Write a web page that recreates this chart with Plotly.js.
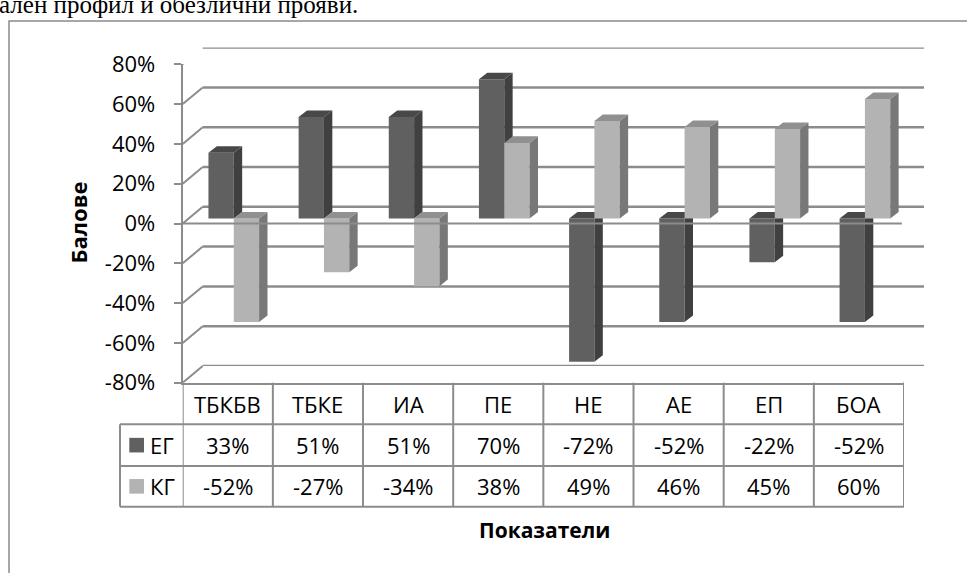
<!DOCTYPE html>
<html><head><meta charset="utf-8">
<script src="https://cdn.plot.ly/plotly-3.0.1.min.js"></script>
<style>html,body{margin:0;padding:0;background:#fff;overflow:hidden}#chart{width:967px;height:573px}</style>
</head><body><div id="chart"></div>
<script>
// ---------- data ----------
const categories = ['ТБКБВ', 'ТБКЕ', 'ИА', 'ПЕ', 'НЕ', 'АЕ', 'ЕП', 'БОА'];
const seriesNames = ['ЕГ', 'КГ'];
const egValues = [33, 51, 51, 70, -72, -52, -22, -52];
const kgValues = [-52, -27, -34, 38, 49, 46, 45, 60];
const yTickValues = [-80, -60, -40, -20, 0, 20, 40, 60, 80];
const yTickLabels = ['-80%', '-60%', '-40%', '-20%', '0%', '20%', '40%', '60%', '80%'];
const yTitle = 'Балове';
const xTitle = 'Показатели';
const pageText = 'ален профил и обезлични прояви.';

// ---------- geometry / style ----------
const W = 967, H = 573;
const FX0 = 182.7, FX1 = 904, FYTOP = 64.3, FYBOT = 382.7;   // front plane (px)
const BACK_DX = 20, BACK_DY = 16.7;                          // back wall offset (px)
const BAR_DX = 6, BAR_DY = 5;                                // bar plane offset (px)
const BAR_W = 0.281;                                         // bar width (category units)
const DEPTH_X = 0.093, DEPTH_Y = 3.3;                        // bar depth (axis units)
const GRID = '#8c8c8c';
const FONT = "'Open Sans', sans-serif";
const FS = 22;
const EG_COL = {front: '#606060', side: '#404040', top: '#484848'};
const KG_COL = {front: '#b3b3b3', side: '#787878', top: '#909090'};
const ROW_Y = [FYBOT, 424.3, 466, 506.7];                     // table row borders (px)
const LEG_X0 = 120;

const xd = (a, b) => [a / W, b / W];
const yd = (top, bot) => [1 - bot / H, 1 - top / H];
const py = p => 1 - p / H;
const px = p => p / W;
const idx = categories.map((_, i) => i);
const RANGE_X = [-0.5, categories.length - 0.5];
const RANGE_Y = [yTickValues[0], yTickValues[yTickValues.length - 1]];

function faces(values, left, col, xa, ya) {
  const sx = [], sy = [], tx = [], ty = [];
  values.forEach((v, i) => {
    const x0 = i + left, x1 = x0 + BAR_W;
    const lo = Math.min(0, v), hi = Math.max(0, v);
    sx.push(x1, x1, x1 + DEPTH_X, x1 + DEPTH_X, x1, null);
    sy.push(lo, hi, hi + DEPTH_Y, lo + DEPTH_Y, lo, null);
    tx.push(x0, x1, x1 + DEPTH_X, x0 + DEPTH_X, x0, null);
    ty.push(hi, hi, hi + DEPTH_Y, hi + DEPTH_Y, hi, null);
  });
  const base = {type: 'scatter', mode: 'lines', fill: 'toself', line: {width: 0}, xaxis: xa, yaxis: ya, hoverinfo: 'skip', showlegend: false};
  return [
    Object.assign({}, base, {x: sx, y: sy, fillcolor: col.side}),
    Object.assign({}, base, {x: tx, y: ty, fillcolor: col.top})
  ];
}

const traces = [
  {type: 'bar', name: seriesNames[0], x: idx, y: egValues, xaxis: 'x2', yaxis: 'y2',
   offset: -BAR_W, width: BAR_W, marker: {color: EG_COL.front, line: {width: 0}}, showlegend: false},
  ...faces(egValues, -BAR_W, EG_COL, 'x2', 'y2'),
  {type: 'bar', name: seriesNames[1], x: idx, y: kgValues, xaxis: 'x3', yaxis: 'y3',
   offset: 0, width: BAR_W, marker: {color: KG_COL.front, line: {width: 0}}, showlegend: false},
  ...faces(kgValues, 0, KG_COL, 'x3', 'y3')
];

const hidden = {visible: false, fixedrange: true, type: 'linear'};
const layout = {
  width: W, height: H,
  margin: {l: 0, r: 0, t: 0, b: 0},
  paper_bgcolor: '#ffffff', plot_bgcolor: 'rgba(0,0,0,0)',
  showlegend: false, barmode: 'overlay',
  font: {family: FONT, size: FS, color: '#000'},
  // back wall
  xaxis: {domain: xd(FX0 + BACK_DX, FX1 + BACK_DX), range: RANGE_X, type: 'linear', showgrid: false, zeroline: false,
          showticklabels: false, ticks: '', showline: false, anchor: 'y', fixedrange: true},
  yaxis: {domain: yd(FYTOP - BACK_DY, FYBOT - BACK_DY), range: RANGE_Y, type: 'linear', tickvals: yTickValues,
          showgrid: false, zeroline: false, showticklabels: false, ticks: '',
          showline: false, anchor: 'x', fixedrange: true},
  // bars
  xaxis2: Object.assign({}, hidden, {domain: xd(FX0 + BAR_DX, FX1 + BAR_DX), range: RANGE_X, anchor: 'y2'}),
  yaxis2: Object.assign({}, hidden, {domain: yd(FYTOP - BAR_DY, FYBOT - BAR_DY), range: RANGE_Y, anchor: 'x2'}),
  xaxis3: Object.assign({}, hidden, {domain: xd(FX0 + BAR_DX, FX1 + BAR_DX), range: RANGE_X, anchor: 'y3'}),
  yaxis3: Object.assign({}, hidden, {domain: yd(FYTOP - BAR_DY, FYBOT - BAR_DY), range: RANGE_Y, anchor: 'x3'}),
  // front plane
  xaxis4: {domain: xd(FX0, FX1), range: RANGE_X, type: 'linear', showgrid: false, zeroline: false, showticklabels: false,
           ticks: '', showline: true, linecolor: GRID, linewidth: 2, anchor: 'y4', fixedrange: true},
  yaxis4: {domain: yd(FYTOP, FYBOT), range: RANGE_Y, type: 'linear', tickvals: yTickValues, ticktext: yTickLabels,
           ticks: 'outside', ticklen: 7, tickwidth: 2, tickcolor: GRID, showline: true, linecolor: GRID, linewidth: 2,
           showgrid: false, zeroline: false, tickfont: {family: FONT, size: FS, color: '#000'},
           ticklabelstandoff: 14, anchor: 'x4', fixedrange: true},
  shapes: [], annotations: []
};

const S = layout.shapes, A = layout.annotations;
const ln = {color: GRID, width: 2};
// outer chart frame
S.push({type: 'rect', xref: 'paper', yref: 'paper', x0: px(9), x1: 1.02, y0: py(21), y1: -0.02,
        line: {color: '#8a8a8a', width: 1.5}, fillcolor: 'rgba(0,0,0,0)', layer: 'below'});
// back wall gridlines
yTickValues.forEach(v => {
  S.push({type: 'line', xref: 'x domain', yref: 'y', x0: 0, x1: 1, y0: v, y1: v, line: {color: GRID, width: 2.5}, layer: 'below'});
});
// depth diagonals on the left for each tick
yTickValues.forEach(v => {
  S.push({type: 'line', xref: 'x4', yref: 'y4', xsizemode: 'pixel', ysizemode: 'pixel',
          xanchor: RANGE_X[0], yanchor: v, x0: 0, x1: BACK_DX, y0: 0, y1: BACK_DY, line: ln, layer: 'below'});
});
// floor right diagonal
S.push({type: 'line', xref: 'x4', yref: 'y4', xsizemode: 'pixel', ysizemode: 'pixel',
        xanchor: RANGE_X[1], yanchor: RANGE_Y[0], x0: 0, x1: BACK_DX, y0: 0, y1: BACK_DY, line: ln, layer: 'below'});
// front 0% line (in front of bars)
S.push({type: 'line', xref: 'x4 domain', yref: 'y4', x0: 0, x1: 0.997, y0: 0, y1: 0, line: ln, layer: 'above'});

// data table grid
for (let i = 0; i <= categories.length; i++) {
  S.push({type: 'line', xref: 'x4', yref: 'paper', x0: i - 0.5, x1: i - 0.5, y0: py(ROW_Y[0]), y1: py(ROW_Y[3]), line: ln});
}
S.push({type: 'line', xref: 'paper', yref: 'paper', x0: px(LEG_X0), x1: px(LEG_X0), y0: py(ROW_Y[1]), y1: py(ROW_Y[3]), line: ln});
[1, 2, 3].forEach(r => {
  S.push({type: 'line', xref: 'paper', yref: 'paper', x0: px(LEG_X0), x1: px(FX1), y0: py(ROW_Y[r]), y1: py(ROW_Y[r]), line: ln});
});
const rowMid = r => py((ROW_Y[r] + ROW_Y[r + 1]) / 2);
categories.forEach((c, i) => {
  A.push({xref: 'x4', yref: 'paper', x: i, y: rowMid(0), text: c, showarrow: false, xanchor: 'center', yanchor: 'middle'});
  A.push({xref: 'x4', yref: 'paper', x: i, y: rowMid(1), text: egValues[i] + '%', showarrow: false, xanchor: 'center', yanchor: 'middle'});
  A.push({xref: 'x4', yref: 'paper', x: i, y: rowMid(2), text: kgValues[i] + '%', showarrow: false, xanchor: 'center', yanchor: 'middle'});
});
// legend keys inside table
[EG_COL.front, KG_COL.front].forEach((col, k) => {
  const cy = (ROW_Y[k + 1] + ROW_Y[k + 2]) / 2;
  S.push({type: 'rect', xref: 'paper', yref: 'paper', x0: px(129.3), x1: px(144), y0: py(cy - 7.3), y1: py(cy + 7.3),
          fillcolor: col, line: {width: 0}});
  A.push({xref: 'paper', yref: 'paper', x: px(148), y: rowMid(k + 1), text: seriesNames[k], showarrow: false,
          xanchor: 'left', yanchor: 'middle'});
});
// axis titles
A.push({xref: 'paper', yref: 'paper', x: px(78), y: py(222.5), text: '<b>' + yTitle + '</b>', textangle: -90,
        showarrow: false, xanchor: 'center', yanchor: 'middle', font: {family: FONT, size: 22, color: '#000'}});
A.push({xref: 'paper', yref: 'paper', x: px(544), y: py(530), text: '<b>' + xTitle + '</b>',
        showarrow: false, xanchor: 'center', yanchor: 'middle', font: {family: FONT, size: 21, color: '#000'}});
// cut-off document text at the very top
A.push({xref: 'paper', yref: 'paper', x: px(-3), y: py(20), text: pageText, showarrow: false, xanchor: 'left', yanchor: 'bottom',
        font: {family: "'Liberation Serif', 'Times New Roman', serif", size: 25, color: '#000'}});

Plotly.newPlot('chart', traces, layout, {staticPlot: true, displayModeBar: false});
</script></body></html>
